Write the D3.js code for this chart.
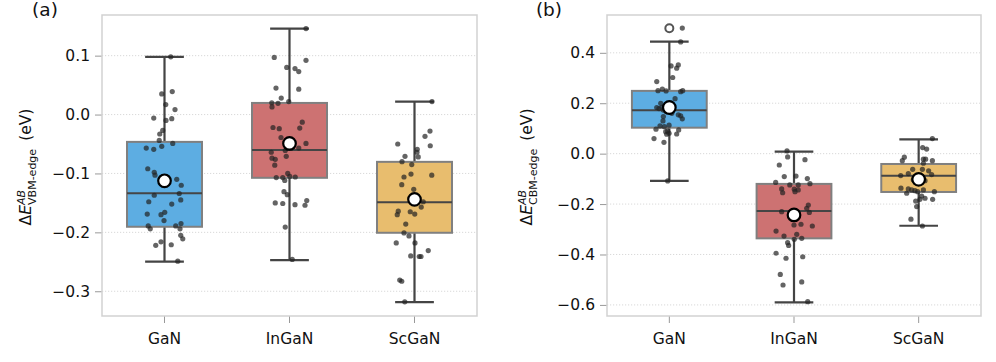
<!DOCTYPE html>
<html>
<head>
<meta charset="utf-8">
<script src="https://cdn.jsdelivr.net/npm/d3@7"></script>
<style>
  body { margin: 0; background: #fff; }
  text { font-family: "DejaVu Sans", sans-serif; fill: #111; }
</style>
</head>
<body>
<script>
// categories and colours
const categories = ["GaN", "InGaN", "ScGaN"];
const boxColors = ["#5dade2", "#cd7272", "#e8bd6e"];

// panel (a): VBM edge box statistics
const vbmLo = [-0.2498, -0.247, -0.3186];
const vbmQ1 = [-0.1905, -0.1074, -0.2007];
const vbmMed = [-0.1334, -0.060, -0.149];
const vbmQ3 = [-0.0464, 0.0197, -0.0803];
const vbmHi = [0.098, 0.1458, 0.022];
const vbmMean = [-0.1125, -0.049, -0.144];
const vbmFliers = [[], [], []];
const vbmTicks = [0.1, 0.0, -0.1, -0.2, -0.3];

// panel (a) strip points: [value, jitter (fraction of band)]
const vbmGaN = [[0.098,0.05],[0.035,-0.022],[0.039,0.062],[0.017,0.01],[0.0085,0.084],[-0.006,-0.086],[-0.010,0.012],[-0.007,0.058],[-0.027,-0.014],[-0.033,-0.038],[-0.044,-0.042],[-0.054,-0.022],[-0.049,0.066],[-0.057,-0.146],[-0.059,-0.086],[-0.092,-0.134],[-0.098,-0.082],[-0.103,-0.076],[-0.116,-0.022],[-0.110,0.098],[-0.120,0.134],[-0.134,0.118],[-0.137,-0.082],[-0.145,0.13],[-0.148,-0.126],[-0.152,0.058],[-0.169,-0.138],[-0.166,0.002],[-0.170,-0.028],[-0.180,-0.004],[-0.189,-0.13],[-0.194,-0.114],[-0.189,0.09],[-0.185,0.132],[-0.194,0.124],[-0.205,0.13],[-0.211,0.146],[-0.222,-0.07],[-0.216,-0.028],[-0.221,0.054],[-0.249,0.106]];
const vbmInGaN = [[0.146,0.132],[0.097,-0.122],[0.092,0.132],[0.080,-0.022],[0.078,0.044],[0.073,0.074],[0.045,-0.108],[0.043,0.074],[0.028,-0.066],[0.022,-0.006],[0.020,-0.142],[0.019,-0.092],[0.013,-0.14],[-0.022,-0.132],[-0.024,-0.082],[-0.013,0.102],[-0.023,0.082],[-0.039,-0.068],[-0.049,0.132],[-0.057,0.074],[-0.061,-0.034],[-0.064,-0.146],[-0.071,-0.026],[-0.074,-0.14],[-0.076,-0.114],[-0.086,-0.118],[-0.100,-0.014],[-0.107,-0.106],[-0.107,-0.054],[-0.105,0.002],[-0.106,0.046],[-0.112,-0.038],[-0.131,-0.044],[-0.136,-0.018],[-0.150,-0.114],[-0.151,-0.054],[-0.146,0.138],[-0.153,0.044],[-0.154,0.124],[-0.191,-0.034],[-0.246,0.022]];
const vbmScGaN = [[0.022,0.14],[-0.028,0.124],[-0.037,0.084],[-0.050,-0.134],[-0.053,0.126],[-0.059,0.022],[-0.064,0.02],[-0.071,-0.076],[-0.072,0.03],[-0.080,-0.1],[-0.085,-0.022],[-0.101,-0.028],[-0.103,0.138],[-0.106,-0.084],[-0.119,-0.102],[-0.127,-0.006],[-0.148,0.07],[-0.157,0.054],[-0.164,-0.13],[-0.170,-0.138],[-0.165,-0.034],[-0.169,0.002],[-0.186,-0.07],[-0.201,-0.084],[-0.206,-0.044],[-0.218,-0.146],[-0.218,0.004],[-0.231,0.11],[-0.240,-0.03],[-0.241,0.038],[-0.241,0.052],[-0.281,-0.118],[-0.283,-0.102],[-0.318,-0.078]];

// panel (b): CBM edge box statistics
const cbmLo = [-0.108, -0.590, -0.286];
const cbmQ1 = [0.103, -0.336, -0.152];
const cbmMed = [0.172, -0.227, -0.088];
const cbmQ3 = [0.249, -0.120, -0.041];
const cbmHi = [0.444, 0.008, 0.057];
const cbmMean = [0.183, -0.243, -0.102];
const cbmFliers = [[0.4976], [], []];
const cbmTicks = [0.4, 0.2, 0.0, -0.2, -0.4, -0.6];

const cbmGaN = [[0.498,0.104],[0.443,0.091],[0.348,0.014],[0.352,0.072],[0.339,0.059],[0.302,0.027],[0.286,-0.101],[0.250,-0.091],[0.256,-0.056],[0.249,-0.026],[0.246,0.091],[0.250,0.107],[0.218,0.046],[0.200,-0.069],[0.183,-0.101],[0.179,-0.083],[0.184,-0.061],[0.173,-0.048],[0.167,-0.026],[0.154,0.072],[0.150,0.091],[0.138,0.104],[0.147,-0.048],[0.130,-0.051],[0.107,-0.04],[0.110,-0.075],[0.113,-0.002],[0.097,-0.107],[0.087,-0.029],[0.090,-0.013],[0.094,0.075],[0.077,-0.021],[0.081,-0.002],[0.078,0.059],[0.060,-0.123],[0.045,-0.043],[0.19,0.012],[0.16,0.02],[-0.108,-0.013]];
const cbmInGaN = [[0.011,-0.056],[-0.013,-0.051],[-0.024,0.088],[-0.045,-0.118],[-0.091,-0.078],[-0.089,0.016],[-0.099,0.107],[-0.114,-0.147],[-0.124,-0.034],[-0.124,0.034],[-0.119,0.128],[-0.140,-0.099],[-0.155,-0.091],[-0.141,0.002],[-0.151,0.008],[-0.144,0.034],[-0.204,0.115],[-0.217,0.102],[-0.230,-0.099],[-0.233,0.123],[-0.283,0],[-0.280,0.056],[-0.287,0.147],[-0.307,-0.144],[-0.327,-0.08],[-0.320,0.022],[-0.340,0.002],[-0.336,0.062],[-0.353,-0.051],[-0.364,-0.043],[-0.395,-0.144],[-0.415,-0.064],[-0.409,0.07],[-0.479,-0.11],[-0.521,-0.088],[-0.509,0.062],[-0.587,0.11]];
const cbmScGaN = [[0.060,0.11],[0.024,0.032],[0.018,0.064],[-0.014,-0.115],[-0.028,-0.131],[-0.022,0.038],[-0.022,0.056],[-0.028,0.11],[-0.038,0.038],[-0.062,-0.048],[-0.062,0.03],[-0.068,0.08],[-0.079,-0.083],[-0.087,-0.144],[-0.083,0.104],[-0.089,-0.022],[-0.104,-0.043],[-0.107,0.051],[-0.137,-0.142],[-0.140,-0.083],[-0.144,-0.056],[-0.147,-0.03],[-0.151,-0.008],[-0.144,0.038],[-0.151,0.126],[-0.157,-0.096],[-0.168,0.024],[-0.177,0.051],[-0.181,0.01],[-0.181,0.112],[-0.188,-0.024],[-0.210,-0.016],[-0.260,-0.062],[-0.287,0.03]];

const W = 996, H = 362;
const svg = d3.select("body").append("svg").attr("width", W).attr("height", H);
const fmt = d => d3.format(".1f")(d).replace("-", "\u2212");

function panel(o) {
  const x = d3.scaleBand().domain(categories).range([o.left, o.right]).padding(0);
  const y = d3.scaleLinear().domain(o.domain).range([316, 15]);
  const g = svg.append("g");
  const bw = x.bandwidth();

  // grid
  g.selectAll(".grid").data(o.ticks).enter().append("line")
    .attr("x1", o.left).attr("x2", o.right)
    .attr("y1", d => y(d)).attr("y2", d => y(d))
    .attr("stroke", "#cfcfcf").attr("stroke-width", 0.8).attr("stroke-dasharray", "1.2,1.8");

  // axes
  const ya = g.append("g").attr("transform", `translate(${o.left},0)`)
    .call(d3.axisLeft(y).tickValues(o.ticks).tickFormat(fmt).tickSize(7).tickPadding(5));
  const xa = g.append("g").attr("transform", "translate(0,316)")
    .call(d3.axisBottom(x).tickSize(7).tickPadding(10));
  [ya, xa].forEach(a => {
    a.select(".domain").remove();
    a.selectAll(".tick line").attr("stroke", "#999").attr("stroke-width", 1);
    a.selectAll("text").style("font-size", "15.5px").attr("fill", "#111");
  });

  // frame
  g.append("rect").attr("x", o.left).attr("y", 15)
    .attr("width", o.right - o.left).attr("height", 301)
    .attr("fill", "none").attr("stroke", "#d2d2d2").attr("stroke-width", 1.5);

  categories.forEach((c, i) => {
    const cx = x(c) + bw / 2;
    const half = bw * 0.3, cap = bw * 0.155;
    // whiskers
    g.append("line").attr("x1", cx).attr("x2", cx).attr("y1", y(o.q3[i])).attr("y2", y(o.hi[i]))
      .attr("stroke", "#444").attr("stroke-width", 2.2);
    g.append("line").attr("x1", cx).attr("x2", cx).attr("y1", y(o.q1[i])).attr("y2", y(o.lo[i]))
      .attr("stroke", "#444").attr("stroke-width", 2.2);
    [o.hi[i], o.lo[i]].forEach(v => {
      g.append("line").attr("x1", cx - cap).attr("x2", cx + cap).attr("y1", y(v)).attr("y2", y(v))
        .attr("stroke", "#444").attr("stroke-width", 2.2);
    });
    // box
    g.append("rect").attr("x", cx - half).attr("width", half * 2)
      .attr("y", y(o.q3[i])).attr("height", y(o.q1[i]) - y(o.q3[i]))
      .attr("fill", boxColors[i]).attr("stroke", "#808080").attr("stroke-width", 2);
    g.append("line").attr("x1", cx - half).attr("x2", cx + half)
      .attr("y1", y(o.med[i])).attr("y2", y(o.med[i]))
      .attr("stroke", "#454545").attr("stroke-width", 2);
    // fliers
    o.fliers[i].forEach(v => {
      g.append("circle").attr("cx", cx).attr("cy", y(v)).attr("r", 4)
        .attr("fill", "#fff").attr("stroke", "#555").attr("stroke-width", 2);
    });
    // strip points
    g.selectAll(null).data(o.pts[i]).enter().append("circle")
      .attr("cx", d => cx + d[1] * bw).attr("cy", d => y(d[0])).attr("r", 2.6)
      .attr("fill", "#222").attr("fill-opacity", 0.7);
    // mean
    g.append("circle").attr("cx", cx).attr("cy", y(o.mean[i])).attr("r", 6.3)
      .attr("fill", "#fff").attr("stroke", "#000").attr("stroke-width", 2.2);
  });

  // y label
  const t = svg.append("text").attr("transform", `translate(${o.labelX},167) rotate(-90)`)
    .attr("text-anchor", "middle").style("font-size", "15.5px");
  t.append("tspan").text("\u0394");
  t.append("tspan").style("font-style", "italic").text("E");
  t.append("tspan").style("font-style", "italic").style("font-size", "11px").attr("dy", -6).text("AB");
  t.append("tspan").style("font-size", "11px").attr("dx", -15).attr("dy", 11).text(o.sub);
  t.append("tspan").attr("dy", -5).text("\u2009 (eV)");

  svg.append("text").attr("x", o.tagX).attr("y", 16).attr("text-anchor", "middle")
    .style("font-size", "18.5px").text(o.tag);
}

panel({
  left: 102, right: 477, domain: [-0.342, 0.169], ticks: vbmTicks,
  lo: vbmLo, q1: vbmQ1, med: vbmMed, q3: vbmQ3, hi: vbmHi, mean: vbmMean, fliers: vbmFliers,
  pts: [vbmGaN, vbmInGaN, vbmScGaN], sub: "VBM-edge", labelX: 31, tag: "(a)", tagX: 45
});
panel({
  left: 607, right: 981, domain: [-0.644, 0.55], ticks: cbmTicks,
  lo: cbmLo, q1: cbmQ1, med: cbmMed, q3: cbmQ3, hi: cbmHi, mean: cbmMean, fliers: cbmFliers,
  pts: [cbmGaN, cbmInGaN, cbmScGaN], sub: "CBM-edge", labelX: 532, tag: "(b)", tagX: 549
});
</script>
</body>
</html>
